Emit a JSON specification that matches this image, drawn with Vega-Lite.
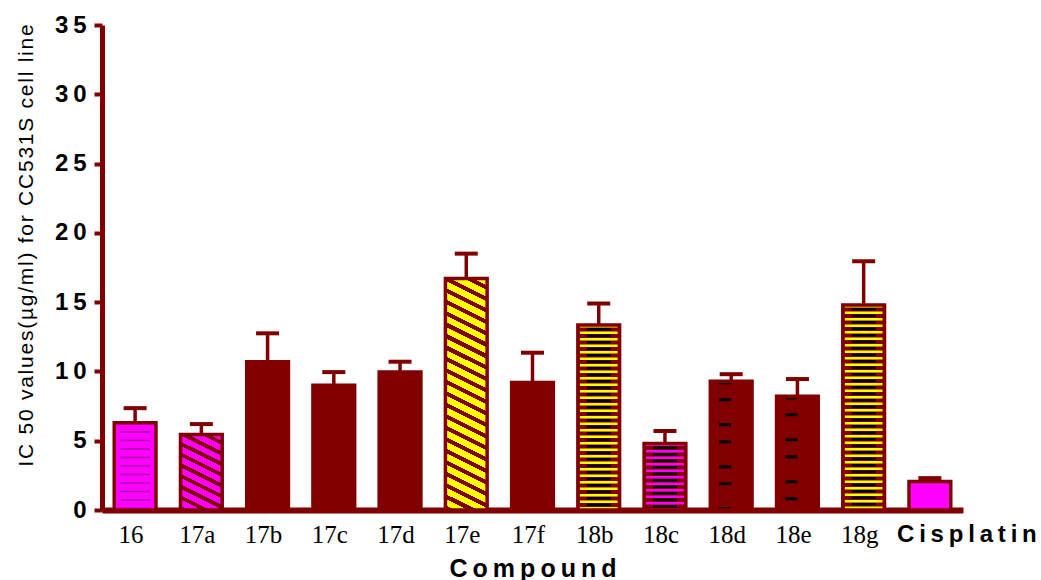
{
  "$schema": "https://vega.github.io/schema/vega-lite/v6.json",
  "width": 861,
  "height": 485,
  "autosize": {"type": "none"},
  "padding": {"left": 102, "top": 25, "right": 78, "bottom": 70},
  "background": "#ffffff",
  "config": {
    "view": {"stroke": null},
    "axisY": {
      "grid": false,
      "tickCount": 8,
      "domainColor": "#800000",
      "domainWidth": 5,
      "tickColor": "#800000",
      "tickWidth": 4,
      "tickSize": 8,
      "labelFont": "Liberation Sans",
      "labelFontSize": 24,
      "labelFontWeight": "bold",
      "labelColor": "#000000",
      "labelPadding": 8,
      "labelExpr": "join(split(datum.label, ''), '\u2009')",
      "titleFont": "Liberation Sans",
      "titleFontSize": 21,
      "titleFontWeight": "normal",
      "titleColor": "#000000",
      "titleAngle": -90,
      "titleBaseline": "alphabetic",
      "titleAlign": "center",
      "titleX": -70,
      "titleY": 220
    }
  },
  "data": {
    "values": [
      {"compound": "16", "ic50": 6.3, "upper": 7.35},
      {"compound": "17a", "ic50": 5.45, "upper": 6.2},
      {"compound": "17b", "ic50": 10.7, "upper": 12.75},
      {"compound": "17c", "ic50": 9.0, "upper": 9.95},
      {"compound": "17d", "ic50": 9.95, "upper": 10.7},
      {"compound": "17e", "ic50": 16.7, "upper": 18.5},
      {"compound": "17f", "ic50": 9.2, "upper": 11.35},
      {"compound": "18b", "ic50": 13.35, "upper": 14.9},
      {"compound": "18c", "ic50": 4.8, "upper": 5.7},
      {"compound": "18d", "ic50": 9.3, "upper": 9.8},
      {"compound": "18e", "ic50": 8.2, "upper": 9.45},
      {"compound": "18g", "ic50": 14.8, "upper": 17.95},
      {"compound": "Cisplatin", "ic50": 2.05, "upper": 2.3}
    ]
  },
  "encoding": {
    "x": {
      "field": "compound",
      "type": "nominal",
      "sort": null,
      "scale": {"paddingInner": 0.37, "paddingOuter": 0.185},
      "axis": {
        "title": "C\u2009o\u2009m\u2009p\u2009o\u2009u\u2009n\u2009d",
        "titleFont": "Liberation Sans",
        "titleFontSize": 25,
        "titleFontWeight": "bold",
        "titleColor": "#000000",
        "titleBaseline": "alphabetic",
        "titleY": 66,
        "labelAngle": 0,
        "labelColor": "#000000",
        "labelPadding": 12,
        "labelExpr": "datum.label === 'Cisplatin' ? join(split(datum.label, ''), '\u2009') : datum.label",
        "labelFont": {"condition": {"test": "datum.value === 'Cisplatin'", "value": "Liberation Sans"}, "value": "Liberation Serif"},
        "labelFontWeight": {"condition": {"test": "datum.value === 'Cisplatin'", "value": "bold"}, "value": "normal"},
        "labelFontSize": {"condition": {"test": "datum.value === 'Cisplatin'", "value": 24}, "value": 25},
        "labelOffset": {"condition": {"test": "datum.value === 'Cisplatin'", "value": 37}, "value": -4},
        "ticks": false,
        "tickSize": 0,
        "domainColor": "#800000",
        "domainWidth": 6
      }
    },
    "y": {
      "field": "ic50",
      "type": "quantitative",
      "scale": {"domain": [0, 35], "nice": false},
      "title": "I\u200aC\u200a \u200a5\u200a0\u200a \u200av\u200aa\u200al\u200au\u200ae\u200as\u200a(\u200a\u00b5\u200ag\u200a/\u200am\u200al\u200a)\u200a \u200af\u200ao\u200ar\u200a \u200aC\u200aC\u200a5\u200a3\u200a1\u200aS\u200a \u200ac\u200ae\u200al\u200al\u200a \u200al\u200ai\u200an\u200ae"
    }
  },
  "layer": [
    {
      "mark": {"type": "bar"},
      "encoding": {
        "fill": {
          "field": "compound",
          "type": "nominal",
          "legend": null,
          "scale": {
            "domain": ["16", "17a", "17b", "17c", "17d", "17e", "17f", "18b", "18c", "18d", "18e", "18g", "Cisplatin"],
            "range": ["#ff00ff", "#ff00ff", "#800000", "#800000", "#800000", "#ffff00", "#800000", "#800000", "#800000", "#800000", "#800000", "#800000", "#ff00ff"]
          }
        }
      }
    },
    {
      "transform": [{"filter": "datum.compound === '17a'"}],
      "mark": {
        "type": "bar",
        "fill": {
          "gradient": "linear", "x1": 1, "y1": 0, "x2": 0.673, "y2": 1.186,
          "stops": [
            {"offset": 0, "color": "#ff00ff"}, {"offset": 0.0667, "color": "#ff00ff"}, {"offset": 0.0667, "color": "#800000"}, {"offset": 0.1111, "color": "#800000"},
            {"offset": 0.1111, "color": "#ff00ff"}, {"offset": 0.1778, "color": "#ff00ff"}, {"offset": 0.1778, "color": "#800000"}, {"offset": 0.2222, "color": "#800000"},
            {"offset": 0.2222, "color": "#ff00ff"}, {"offset": 0.2889, "color": "#ff00ff"}, {"offset": 0.2889, "color": "#800000"}, {"offset": 0.3333, "color": "#800000"},
            {"offset": 0.3333, "color": "#ff00ff"}, {"offset": 0.4, "color": "#ff00ff"}, {"offset": 0.4, "color": "#800000"}, {"offset": 0.4444, "color": "#800000"},
            {"offset": 0.4444, "color": "#ff00ff"}, {"offset": 0.5111, "color": "#ff00ff"}, {"offset": 0.5111, "color": "#800000"}, {"offset": 0.5556, "color": "#800000"},
            {"offset": 0.5556, "color": "#ff00ff"}, {"offset": 0.6222, "color": "#ff00ff"}, {"offset": 0.6222, "color": "#800000"}, {"offset": 0.6667, "color": "#800000"},
            {"offset": 0.6667, "color": "#ff00ff"}, {"offset": 0.7333, "color": "#ff00ff"}, {"offset": 0.7333, "color": "#800000"}, {"offset": 0.7778, "color": "#800000"},
            {"offset": 0.7778, "color": "#ff00ff"}, {"offset": 0.8444, "color": "#ff00ff"}, {"offset": 0.8444, "color": "#800000"}, {"offset": 0.8889, "color": "#800000"},
            {"offset": 0.8889, "color": "#ff00ff"}, {"offset": 0.9556, "color": "#ff00ff"}, {"offset": 0.9556, "color": "#800000"}, {"offset": 1, "color": "#800000"}
          ]
        }
      }
    },
    {
      "transform": [{"filter": "datum.compound === '17e'"}],
      "mark": {
        "type": "bar",
        "fill": {
          "gradient": "linear", "x1": 1, "y1": 0, "x2": 0.9026, "y2": 1.0813,
          "stops": [
            {"offset": 0, "color": "#ffff00"}, {"offset": 0.0273, "color": "#ffff00"}, {"offset": 0.0273, "color": "#800000"}, {"offset": 0.0455, "color": "#800000"},
            {"offset": 0.0455, "color": "#ffff00"}, {"offset": 0.0727, "color": "#ffff00"}, {"offset": 0.0727, "color": "#800000"}, {"offset": 0.0909, "color": "#800000"},
            {"offset": 0.0909, "color": "#ffff00"}, {"offset": 0.1182, "color": "#ffff00"}, {"offset": 0.1182, "color": "#800000"}, {"offset": 0.1364, "color": "#800000"},
            {"offset": 0.1364, "color": "#ffff00"}, {"offset": 0.1636, "color": "#ffff00"}, {"offset": 0.1636, "color": "#800000"}, {"offset": 0.1818, "color": "#800000"},
            {"offset": 0.1818, "color": "#ffff00"}, {"offset": 0.2091, "color": "#ffff00"}, {"offset": 0.2091, "color": "#800000"}, {"offset": 0.2273, "color": "#800000"},
            {"offset": 0.2273, "color": "#ffff00"}, {"offset": 0.2545, "color": "#ffff00"}, {"offset": 0.2545, "color": "#800000"}, {"offset": 0.2727, "color": "#800000"},
            {"offset": 0.2727, "color": "#ffff00"}, {"offset": 0.3, "color": "#ffff00"}, {"offset": 0.3, "color": "#800000"}, {"offset": 0.3182, "color": "#800000"},
            {"offset": 0.3182, "color": "#ffff00"}, {"offset": 0.3455, "color": "#ffff00"}, {"offset": 0.3455, "color": "#800000"}, {"offset": 0.3636, "color": "#800000"},
            {"offset": 0.3636, "color": "#ffff00"}, {"offset": 0.3909, "color": "#ffff00"}, {"offset": 0.3909, "color": "#800000"}, {"offset": 0.4091, "color": "#800000"},
            {"offset": 0.4091, "color": "#ffff00"}, {"offset": 0.4364, "color": "#ffff00"}, {"offset": 0.4364, "color": "#800000"}, {"offset": 0.4545, "color": "#800000"},
            {"offset": 0.4545, "color": "#ffff00"}, {"offset": 0.4818, "color": "#ffff00"}, {"offset": 0.4818, "color": "#800000"}, {"offset": 0.5, "color": "#800000"},
            {"offset": 0.5, "color": "#ffff00"}, {"offset": 0.5273, "color": "#ffff00"}, {"offset": 0.5273, "color": "#800000"}, {"offset": 0.5455, "color": "#800000"},
            {"offset": 0.5455, "color": "#ffff00"}, {"offset": 0.5727, "color": "#ffff00"}, {"offset": 0.5727, "color": "#800000"}, {"offset": 0.5909, "color": "#800000"},
            {"offset": 0.5909, "color": "#ffff00"}, {"offset": 0.6182, "color": "#ffff00"}, {"offset": 0.6182, "color": "#800000"}, {"offset": 0.6364, "color": "#800000"},
            {"offset": 0.6364, "color": "#ffff00"}, {"offset": 0.6636, "color": "#ffff00"}, {"offset": 0.6636, "color": "#800000"}, {"offset": 0.6818, "color": "#800000"},
            {"offset": 0.6818, "color": "#ffff00"}, {"offset": 0.7091, "color": "#ffff00"}, {"offset": 0.7091, "color": "#800000"}, {"offset": 0.7273, "color": "#800000"},
            {"offset": 0.7273, "color": "#ffff00"}, {"offset": 0.7545, "color": "#ffff00"}, {"offset": 0.7545, "color": "#800000"}, {"offset": 0.7727, "color": "#800000"},
            {"offset": 0.7727, "color": "#ffff00"}, {"offset": 0.8, "color": "#ffff00"}, {"offset": 0.8, "color": "#800000"}, {"offset": 0.8182, "color": "#800000"},
            {"offset": 0.8182, "color": "#ffff00"}, {"offset": 0.8455, "color": "#ffff00"}, {"offset": 0.8455, "color": "#800000"}, {"offset": 0.8636, "color": "#800000"},
            {"offset": 0.8636, "color": "#ffff00"}, {"offset": 0.8909, "color": "#ffff00"}, {"offset": 0.8909, "color": "#800000"}, {"offset": 0.9091, "color": "#800000"},
            {"offset": 0.9091, "color": "#ffff00"}, {"offset": 0.9364, "color": "#ffff00"}, {"offset": 0.9364, "color": "#800000"}, {"offset": 0.9545, "color": "#800000"},
            {"offset": 0.9545, "color": "#ffff00"}, {"offset": 0.9818, "color": "#ffff00"}, {"offset": 0.9818, "color": "#800000"}, {"offset": 1, "color": "#800000"}
          ]
        }
      }
    },
    {
      "transform": [{"filter": "datum.compound === '16'"}],
      "mark": {"type": "rule", "color": "#000000", "opacity": 0.35, "strokeWidth": 30, "strokeDash": [1.5, 7]},
      "encoding": {"y2": {"datum": 0}}
    },
    {
      "transform": [{"filter": "datum.compound === '18b' || datum.compound === '18g'"}],
      "mark": {"type": "rule", "color": "#ffff00", "strokeWidth": 38, "strokeDash": [2.5, 4]},
      "encoding": {"y2": {"datum": 0}}
    },
    {
      "transform": [{"filter": "datum.compound === '18c'"}],
      "mark": {"type": "rule", "color": "#ff00ff", "strokeWidth": 38, "strokeDash": [2.5, 4]},
      "encoding": {"y2": {"datum": 0}}
    },
    {
      "transform": [{"filter": "datum.compound === '18b' || datum.compound === '18c' || datum.compound === '18g'"}],
      "mark": {"type": "rule", "color": "#000000", "strokeWidth": 24, "strokeDash": [2.5, 4], "strokeDashOffset": 3.5},
      "encoding": {"y2": {"datum": 0}}
    },
    {
      "transform": [{"filter": "datum.compound === '18d' || datum.compound === '18e'"}],
      "mark": {"type": "rule", "color": "#000000", "strokeWidth": 12, "xOffset": -6, "strokeDash": [3, 14, 3, 22]},
      "encoding": {"y2": {"datum": 0}}
    },
    {
      "mark": {"type": "bar", "fillOpacity": 0, "stroke": "#800000", "strokeWidth": 3.5}
    },
    {
      "mark": {"type": "rule", "color": "#800000", "strokeWidth": 3.5},
      "encoding": {"y2": {"field": "upper"}}
    },
    {
      "mark": {"type": "tick", "color": "#800000", "size": 23, "thickness": 4, "opacity": 1},
      "encoding": {
        "y": {
          "field": "upper",
          "type": "quantitative",
          "title": "I\u200aC\u200a \u200a5\u200a0\u200a \u200av\u200aa\u200al\u200au\u200ae\u200as\u200a(\u200a\u00b5\u200ag\u200a/\u200am\u200al\u200a)\u200a \u200af\u200ao\u200ar\u200a \u200aC\u200aC\u200a5\u200a3\u200a1\u200aS\u200a \u200ac\u200ae\u200al\u200al\u200a \u200al\u200ai\u200an\u200ae"
        }
      }
    }
  ]
}
